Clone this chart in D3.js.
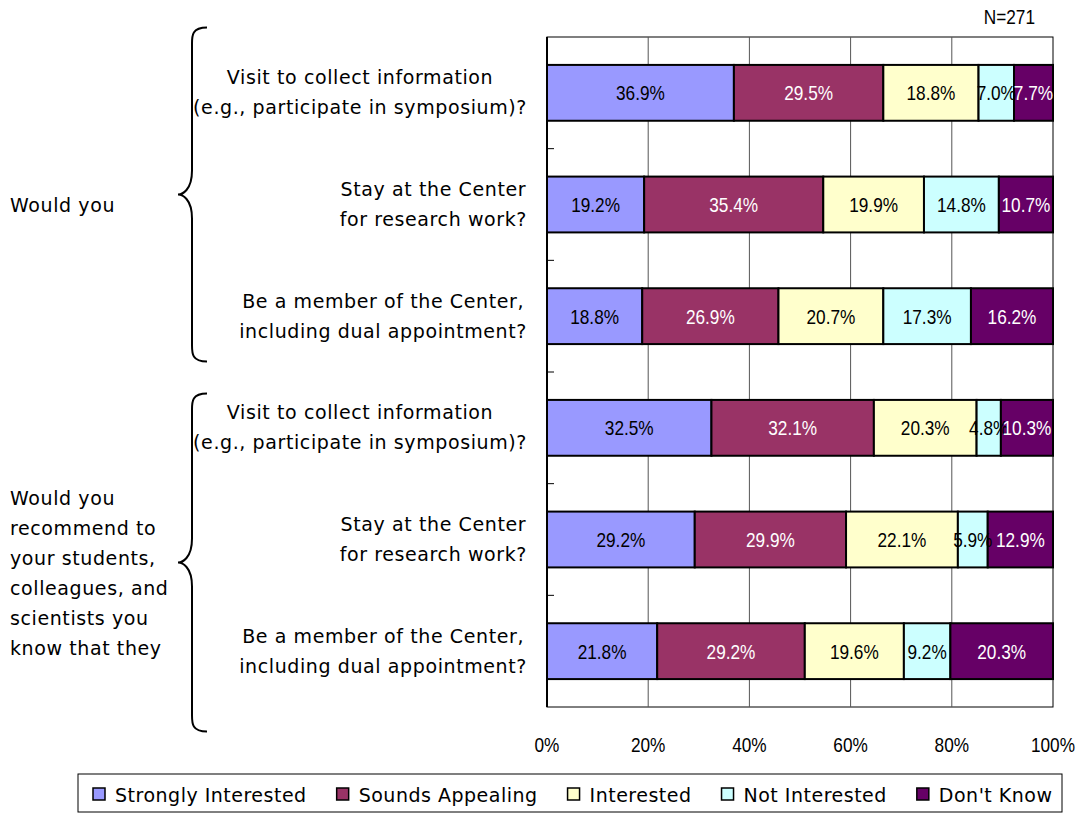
<!DOCTYPE html>
<html>
<head>
<meta charset="utf-8">
<script src="https://cdn.jsdelivr.net/npm/d3@7"></script>
<style>
  body { margin: 0; background: #fff; }
  .lab { font-family: "DejaVu Sans", sans-serif; font-size: 19px; fill: #000; letter-spacing: 0.6px; }
  .leg { font-family: "DejaVu Sans", sans-serif; font-size: 19px; fill: #000; letter-spacing: 0.5px; }
  .num { font-family: "Liberation Sans", sans-serif; font-size: 21px; }
</style>
</head>
<body>
<div id="chart"></div>
<script>
// 100% stacked bars, two question groups with braces

let width = 1083
let height = 814
let margin = {top: 37, left: 547, right: 30, bottom: 107}

// data
let questions = [
  ["Visit to collect information", "(e.g., participate in symposium)?"],
  ["Stay at the Center", "for research work?"],
  ["Be a member of the Center,", "including dual appointment?"],
  ["Visit to collect information", "(e.g., participate in symposium)?"],
  ["Stay at the Center", "for research work?"],
  ["Be a member of the Center,", "including dual appointment?"]
]
let seriesNames = ["Strongly Interested", "Sounds Appealing", "Interested", "Not Interested", "Don't Know"]
let seriesColors = ["#9999FF", "#993366", "#FFFFCC", "#CCFFFF", "#660066"]
let labelColors = ["#000", "#fff", "#000", "#000", "#fff"]

let stronglyInterested = [36.9, 19.2, 18.8, 32.5, 29.2, 21.8]
let soundsAppealing    = [29.5, 35.4, 26.9, 32.1, 29.9, 29.2]
let interested         = [18.8, 19.9, 20.7, 20.3, 22.1, 19.6]
let notInterested      = [7.0, 14.8, 17.3, 4.8, 5.9, 9.2]
let dontKnow           = [7.7, 10.7, 16.2, 10.3, 12.9, 20.3]

let groupLabels = [
  ["Would you"],
  ["Would you", "recommend to", "your students,", "colleagues, and", "scientists you", "know that they"]
]
let groupRows = [[0, 1, 2], [3, 4, 5]]
let xTicks = [0, 0.2, 0.4, 0.6, 0.8, 1]
let nLabel = "N=271"

let allSeries = [stronglyInterested, soundsAppealing, interested, notInterested, dontKnow]
let rows = questions.map((q, i) => {
  let r = {idx: i}
  seriesNames.forEach((s, j) => { r[s] = allSeries[j][i] })
  return r
})

let svg = d3.select('#chart').append('svg')
  .attr('width', width)
  .attr('height', height)

let x = d3.scaleLinear().domain([0, 1]).range([margin.left, width - margin.right])
let y = d3.scaleBand().domain(d3.range(questions.length))
  .range([margin.top, height - margin.bottom]).paddingInner(0.5).paddingOuter(0.25)
let yOuter = d3.scaleBand().domain(d3.range(questions.length))
  .range([margin.top, height - margin.bottom])

let stack = d3.stack().keys(seriesNames).offset(d3.stackOffsetExpand)
let stacked = stack(rows)

// narrow the number font like the original
function squeeze(sel) {
  sel.each(function() {
    let len = this.getComputedTextLength()
    d3.select(this).attr('textLength', len * 0.82).attr('lengthAdjust', 'spacingAndGlyphs')
  })
}

// plot frame + gridlines
svg.append('rect')
  .attr('x', x(0)).attr('y', margin.top)
  .attr('width', x(1) - x(0)).attr('height', height - margin.bottom - margin.top)
  .attr('fill', 'none').attr('stroke', '#000').attr('stroke-width', 1)

svg.selectAll('.grid')
  .data(xTicks.slice(1, -1))
  .enter().append('line')
  .attr('x1', d => x(d)).attr('x2', d => x(d))
  .attr('y1', margin.top).attr('y2', height - margin.bottom)
  .attr('stroke', '#555').attr('stroke-width', 1)

svg.append('line')
  .attr('x1', x(0)).attr('x2', x(0))
  .attr('y1', margin.top).attr('y2', height - margin.bottom)
  .attr('stroke', '#000').attr('stroke-width', 2)

// category boundary ticks on left axis
svg.selectAll('.ytick')
  .data(d3.range(1, questions.length))
  .enter().append('line')
  .attr('x1', x(0)).attr('x2', x(0) + 7)
  .attr('y1', d => yOuter(d)).attr('y2', d => yOuter(d))
  .attr('stroke', '#000')

// bars
let layer = svg.selectAll('.layer')
  .data(stacked)
  .enter().append('g')
  .attr('fill', (d, i) => seriesColors[i])

layer.selectAll('rect')
  .data(d => d)
  .enter().append('rect')
  .attr('x', d => x(d[0]))
  .attr('y', d => y(d.data.idx))
  .attr('width', d => x(d[1]) - x(d[0]))
  .attr('height', y.bandwidth())
  .attr('stroke', '#000').attr('stroke-width', 2)

stacked.forEach((s, i) => {
  svg.selectAll('.val' + i)
    .data(s)
    .enter().append('text')
    .attr('class', 'num')
    .attr('x', d => (x(d[0]) + x(d[1])) / 2)
    .attr('y', d => y(d.data.idx) + y.bandwidth() / 2)
    .attr('dy', '0.36em')
    .attr('text-anchor', 'middle')
    .attr('fill', labelColors[i])
    .text(d => d.data[s.key].toFixed(1) + '%')
    .call(squeeze)
})

// x axis labels
svg.selectAll('.xlab')
  .data(xTicks)
  .enter().append('text')
  .attr('class', 'num')
  .attr('x', d => x(d))
  .attr('y', 752)
  .attr('text-anchor', 'middle')
  .text(d => d3.format('.0%')(d))
  .call(squeeze)

svg.append('text').attr('class', 'num')
  .attr('x', 1035).attr('y', 24).attr('text-anchor', 'end')
  .text(nLabel)
  .call(squeeze)

// question labels: lines centred in a block whose right edge is fixed
let labRight = 527
questions.forEach((lines, i) => {
  let g = svg.append('g')
  let cy = y(i) + y.bandwidth() / 2
  let t = g.selectAll('text').data(lines).enter().append('text')
    .attr('class', 'lab')
    .attr('y', (d, k) => cy + (k - (lines.length - 1) / 2) * 30)
    .attr('dy', '0.35em')
    .attr('text-anchor', 'middle')
    .text(d => d)
  let maxW = d3.max(t.nodes(), n => n.getComputedTextLength())
  t.attr('x', labRight - maxW / 2)
})

// braces + group labels
let braceOffsets = [{mid: -10, half: 167}, {mid: 23, half: 169}]
groupRows.forEach((gr, gi) => {
  let top = yOuter(gr[0])
  let bot = yOuter(gr[gr.length - 1]) + yOuter.bandwidth()
  let ym = (top + bot) / 2 + braceOffsets[gi].mid
  let y0 = ym - braceOffsets[gi].half
  let y1 = ym + braceOffsets[gi].half
  let xl = 192, xt = 178, xe = 207, r = 16
  let p = d3.path()
  p.moveTo(xe, y0)
  p.bezierCurveTo(xl, y0, xl, y0 + r / 2, xl, y0 + r)
  p.lineTo(xl, ym - r * 1.5)
  p.bezierCurveTo(xl, ym - 4, xt + 4, ym, xt, ym)
  p.bezierCurveTo(xt + 4, ym, xl, ym + 4, xl, ym + r * 1.5)
  p.lineTo(xl, y1 - r)
  p.bezierCurveTo(xl, y1 - r / 2, xl, y1, xe, y1)
  svg.append('path').attr('d', p.toString())
    .attr('fill', 'none').attr('stroke', '#000').attr('stroke-width', 2)

  let lines = groupLabels[gi]
  let cy = ym + 11
  svg.selectAll('.glab' + gi)
    .data(lines).enter().append('text')
    .attr('class', 'lab')
    .attr('x', 10)
    .attr('y', (d, k) => cy + (k - (lines.length - 1) / 2) * 30)
    .attr('dy', '0.35em')
    .text(d => d)
})

// legend
let leg = svg.append('g')
leg.append('rect')
  .attr('x', 78).attr('y', 774).attr('width', 984).attr('height', 38)
  .attr('fill', '#fff').attr('stroke', '#000')
let lx = 93
seriesNames.forEach((s, i) => {
  leg.append('rect')
    .attr('x', lx).attr('y', 788).attr('width', 12).attr('height', 12)
    .attr('fill', seriesColors[i]).attr('stroke', '#000').attr('stroke-width', 1.5)
  let t = leg.append('text').attr('class', 'leg')
    .attr('x', lx + 22).attr('y', 795).attr('dy', '0.35em')
    .text(s)
  lx += 22 + t.node().getComputedTextLength() + 30
})
</script>
</body>
</html>
